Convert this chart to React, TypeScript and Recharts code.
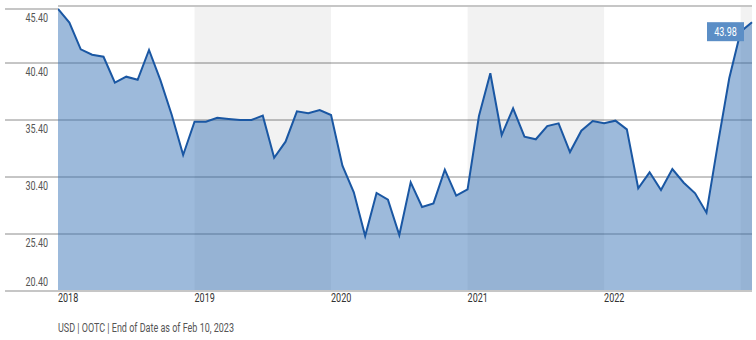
import React from 'react';
import {
    ComposedChart, Area, XAxis, YAxis, CartesianGrid, ReferenceArea, ReferenceLine, LabelList
} from 'recharts';

// monthly closing price, Jan 2018 .. Feb 2023
const PRICES = [
    45.14, 43.94, 41.6, 41.13, 40.95, 38.67, 39.2, 38.93, 41.54, 38.9, 35.84, 32.33,
    35.25, 35.25, 35.6, 35.49, 35.4, 35.4, 35.78, 32.09, 33.5, 36.16, 35.99, 36.28,
    35.84, 31.39, 29.06, 25.22, 29.0, 28.41, 25.31, 29.93, 27.77, 28.09, 31.04, 28.76,
    29.32, 35.75, 39.5, 34.08, 36.43, 33.94, 33.71, 34.87, 35.11, 32.59, 34.46, 35.31,
    35.11, 35.34, 34.58, 29.41, 30.81, 29.26, 31.1, 29.9, 28.97, 27.27, 33.3, 39.06,
    43.15, 43.98,
];
const YEAR_TICKS = [0, 12, 24, 36, 48];
const YEAR_LABELS = ['2018', '2019', '2020', '2021', '2022'];
const Y_TICKS = [20.4, 25.4, 30.4, 35.4, 40.4, 45.4];
const BANDS = [[12, 24], [36, 48], [60, 61]];
const FOOTER = 'USD | OOTC | End of Date as of Feb 10, 2023';

const FONT = "Roboto, sans-serif";
const SQUEEZE = 0.75; // no condensed font installed, so narrow the glyphs by hand

const data = PRICES.map((price, m) => ({ m, price }));

const Narrow = ({ x, y, anchor, size, color, children }: any) => (
    <text
        transform={`translate(${x},${y}) scale(${SQUEEZE},1)`}
        textAnchor={anchor}
        fontSize={size}
        fill={color}
        fontFamily={FONT}
    >
        {children}
    </text>
);

const YTick = (props: any) => {
    const { x, y, payload } = props;
    const top = payload.value === Y_TICKS[Y_TICKS.length - 1];
    const bottom = payload.value === Y_TICKS[0];
    const edge = top || bottom;
    return (
        <g>
            <line x1={5} x2={x} y1={y} y2={y} stroke={edge ? '#c6c6c6' : '#8c8c8c'} strokeWidth={edge ? 2 : 1} />
            <Narrow x={x - 10} y={bottom ? y - 5 : y + 13} anchor="end" size={12} color="#555">
                {payload.value.toFixed(2)}
            </Narrow>
        </g>
    );
};

const XTick = (props: any) => {
    const { x, y, payload } = props;
    const i = YEAR_TICKS.indexOf(payload.value);
    return (
        <Narrow x={x} y={y + 11} anchor="start" size={12} color="#333">
            {YEAR_LABELS[i]}
        </Narrow>
    );
};

const LastLabel = (props: any) => {
    const { x, y, value, index } = props;
    if (index !== PRICES.length - 1 && value !== PRICES[PRICES.length - 1]) return null;
    return (
        <g>
            <rect x={x - 45} y={y} width={37} height={19} fill="#5b8ec6" />
            <Narrow x={x - 26.5} y={y + 13.5} anchor="middle" size={12} color="#fff">
                {Number(value).toFixed(2)}
            </Narrow>
        </g>
    );
};

export default function App() {
    return (
        <div style={{ position: 'fixed', left: 0, top: 0, width: 756, height: 340, background: '#fff' }}>
            <ComposedChart width={756} height={340} data={data} margin={{ top: 6, right: 4, left: 0, bottom: 29 }}>
                <CartesianGrid vertical={false} stroke="#8c8c8c" />
                {BANDS.map(([a, b], i) => (
                    <ReferenceArea key={i} x1={a} x2={b} fill="#000" fillOpacity={0.05} stroke="none" />
                ))}
                <XAxis
                    dataKey="m"
                    type="number"
                    domain={[0, PRICES.length - 1]}
                    ticks={YEAR_TICKS}
                    tick={<XTick />}
                    tickLine={false}
                    axisLine={false}
                    tickSize={0}
                    tickMargin={0}
                    height={20}
                />
                <YAxis
                    domain={[Y_TICKS[0], Y_TICKS[Y_TICKS.length - 1]]}
                    ticks={Y_TICKS}
                    tick={<YTick />}
                    tickLine={false}
                    axisLine={false}
                    tickSize={0}
                    tickMargin={0}
                    width={58}
                    allowDataOverflow
                />
                <Area
                    type="linear"
                    dataKey="price"
                    stroke="#1a57a3"
                    strokeWidth={2}
                    fill="rgb(50,110,180)"
                    fillOpacity={0.48}
                    baseValue="dataMin"
                    dot={false}
                    activeDot={false}
                    isAnimationActive={false}
                >
                    <LabelList dataKey="price" content={<LastLabel />} />
                </Area>
                <ReferenceLine y={Y_TICKS[Y_TICKS.length - 1]} stroke="#c6c6c6" strokeWidth={2} />
                <ReferenceLine y={Y_TICKS[0]} stroke="#c6c6c6" strokeWidth={2} />
            </ComposedChart>
            <div
                style={{
                    position: 'absolute', left: 58, top: 321, fontSize: 12, color: '#555', fontFamily: FONT,
                    whiteSpace: 'nowrap', transform: `scaleX(${SQUEEZE})`, transformOrigin: 'left top',
                }}
            >
                {FOOTER}
            </div>
        </div>
    );
}
